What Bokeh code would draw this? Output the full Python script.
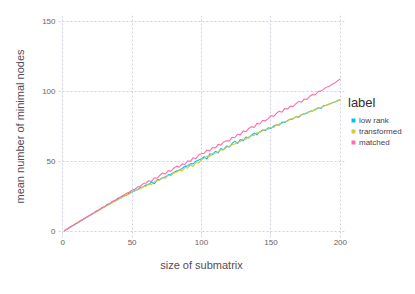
from bokeh.plotting import figure
from bokeh.models import Range1d, FixedTicker, Legend, LegendItem, ColumnDataSource
from bokeh.embed import file_html
from bokeh.resources import INLINE

# x positions: sizes of submatrix (1, then 2..200 step 2)
sizes = [1] + list(range(2, 201, 2))

low_rank = [0.6,
    1.2, 2.5, 3.6, 4.9, 6.0, 7.3, 8.2, 9.8, 10.7, 12.1,
    13.0, 14.6, 15.3, 16.9, 17.6, 19.4, 19.8, 21.5, 22.0, 23.6,
    24.1, 25.8, 26.0, 27.9, 28.3, 29.6, 30.0, 31.8, 31.9, 33.4,
    33.6, 35.5, 34.2, 37.0, 37.4, 38.6, 39.0, 40.6, 41.0, 42.3,
    43.4, 43.8, 45.1, 46.6, 47.0, 48.5, 48.4, 50.3, 51.2, 52.0,
    53.5, 51.8, 55.6, 55.0, 57.4, 56.2, 59.3, 58.5, 61.2, 60.4,
    62.8, 64.6, 62.9, 65.8, 64.8, 67.5, 66.9, 68.8, 70.3, 69.2,
    71.2, 72.6, 72.1, 74.0, 73.6, 75.4, 76.2, 76.0, 78.1, 77.8,
    79.2, 80.1, 80.4, 82.0, 81.6, 83.4, 84.0, 84.5, 85.9, 86.1,
    87.2, 88.3, 88.0, 89.9, 90.1, 91.0, 91.8, 92.5, 93.4, 94.0]

transformed = [0.6,
    1.3, 2.4, 3.8, 4.7, 6.2, 7.0, 8.5, 9.4, 11.0, 11.8,
    13.3, 14.0, 15.6, 16.4, 17.9, 18.6, 20.2, 20.8, 22.3, 22.9,
    24.5, 25.0, 26.6, 26.8, 28.5, 29.0, 30.4, 30.6, 32.3, 32.5,
    34.2, 33.6, 35.7, 36.4, 36.9, 38.5, 38.2, 40.2, 40.1, 42.0,
    42.4, 44.3, 43.2, 45.8, 45.4, 47.6, 46.5, 49.4, 48.9, 51.4,
    52.5, 53.9, 53.6, 55.9, 56.0, 57.1, 58.5, 58.3, 60.4, 60.6,
    62.0, 62.6, 63.8, 64.3, 65.9, 66.0, 67.5, 68.4, 68.7, 70.6,
    70.8, 72.0, 72.9, 73.1, 74.5, 74.4, 76.1, 76.8, 77.2, 78.5,
    78.9, 80.3, 80.6, 81.7, 82.3, 83.1, 84.2, 84.6, 85.5, 86.4,
    86.8, 88.0, 88.5, 89.3, 90.4, 90.7, 91.9, 92.6, 93.1, 94.2]

matched = [0.6,
    1.3, 2.6, 3.8, 5.0, 6.1, 7.4, 8.6, 9.7, 11.0, 12.2,
    13.2, 14.7, 15.6, 17.0, 18.0, 19.4, 20.3, 21.8, 22.6, 24.1,
    25.0, 26.3, 27.4, 28.2, 29.6, 30.4, 31.9, 32.6, 34.3, 34.8,
    36.4, 35.9, 38.5, 38.2, 40.3, 41.9, 41.2, 43.6, 43.1, 45.3,
    46.8, 46.0, 48.4, 48.0, 50.6, 50.2, 52.8, 52.1, 54.9, 55.6,
    56.0, 58.3, 57.6, 60.1, 59.8, 62.3, 61.8, 64.0, 64.9, 64.6,
    67.3, 67.0, 69.5, 69.0, 71.9, 71.2, 73.6, 74.9, 74.3, 77.2,
    76.8, 79.3, 79.0, 80.6, 82.8, 82.2, 84.4, 85.9, 85.2, 87.9,
    87.4, 89.5, 89.2, 91.2, 92.9, 92.2, 94.6, 94.3, 96.5, 97.8,
    97.6, 99.8, 100.2, 101.6, 103.0, 103.6, 105.1, 105.9, 107.6, 108.9]

labels = ["low rank", "transformed", "matched"]
colors = ["#00BFFF", "#D4CA3A", "#FF6DAE"]
x_ticks = [0, 50, 100, 150, 200]
y_ticks = [0, 50, 100, 150]

FONT = "Liberation Sans"

p = figure(output_backend="svg", toolbar_location=None,
           x_range=Range1d(-3, 203), y_range=Range1d(-4, 154),
           frame_width=286, frame_height=222,
           min_border_left=58, min_border_top=15, min_border_right=0, min_border_bottom=49)
p.outline_line_color = None
p.background_fill_color = "white"

series = [low_rank, transformed, matched]
items = []
for lab, col, vals in zip(labels, colors, series):
    src = ColumnDataSource(dict(x=sizes, y=vals))
    p.line("x", "y", source=src, line_color=col, line_width=1.1)
    # zero-size markers: invisible on the plot, give the legend its square swatches
    marker = p.scatter("x", "y", source=src, marker="square", size=0,
                       fill_color=col, line_color=None)
    items.append(LegendItem(label=lab, renderers=[marker]))

for ax, ticks in ((p.xaxis, x_ticks), (p.yaxis, y_ticks)):
    ax.ticker = FixedTicker(ticks=ticks)
    ax.axis_line_color = None
    ax.major_tick_line_color = None
    ax.minor_tick_line_color = None
    ax.major_tick_out = 0
    ax.major_tick_in = 0
    ax.minor_tick_out = 0
    ax.minor_tick_in = 0
    ax.major_label_text_font = FONT
    ax.major_label_text_font_size = "8px"
    ax.major_label_text_color = "#6C606B"
    ax.axis_label_text_font = FONT
    ax.axis_label_text_font_size = "11px"
    ax.axis_label_text_font_style = "normal"
    ax.axis_label_text_color = "#564A55"

p.xaxis.axis_label = "size of submatrix"
p.yaxis.axis_label = "mean number of minimal nodes"
p.xaxis.major_label_standoff = 2
p.xaxis.axis_label_standoff = 11
p.yaxis.major_label_standoff = 3
p.yaxis.axis_label_standoff = 13

for g in (p.xgrid, p.ygrid):
    g.grid_line_color = "#D0D0E0"
    g.grid_line_dash = "2 2"
    g.grid_line_width = 1
p.xgrid.ticker = FixedTicker(ticks=x_ticks)
p.ygrid.ticker = FixedTicker(ticks=y_ticks)

legend = Legend(items=items, title="label", location=(4, 90),
                border_line_color=None, background_fill_alpha=0,
                glyph_width=10, glyph_height=10, label_standoff=1,
                label_text_font=FONT, label_text_font_size="8px",
                label_text_color="#4C404B", label_height=10, spacing=1,
                title_text_font=FONT, title_text_font_size="13px",
                title_text_color="#362A35", title_text_font_style="normal",
                title_standoff=5, padding=2, margin=0)
p.add_layout(legend, "right")

open("out.html", "w").write(file_html(p, INLINE))
